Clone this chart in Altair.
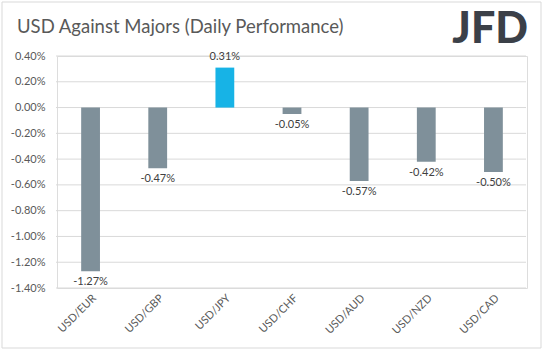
import altair as alt
import pandas as pd

pairs = ["USD/EUR", "USD/GBP", "USD/JPY", "USD/CHF", "USD/AUD", "USD/NZD", "USD/CAD"]
values = [-1.27, -0.47, 0.31, -0.05, -0.57, -0.42, -0.50]
colors = ["#7F909A", "#7F909A", "#17B3E6", "#7F909A", "#7F909A", "#7F909A", "#7F909A"]
y_ticks = [0.4, 0.2, 0.0, -0.2, -0.4, -0.6, -0.8, -1.0, -1.2, -1.4]

df = pd.DataFrame({"pair": pairs, "v": [x / 100 for x in values], "c": colors})
grid_df = pd.DataFrame({"v": [t / 100 for t in y_ticks]})

W, H = 470, 232
FONT = "Lato"

x_enc = alt.X("pair:N", sort=pairs, title=None,
              scale=alt.Scale(paddingInner=0.72, paddingOuter=0.36),
              axis=alt.Axis(labelAngle=-45, domain=False, ticks=False, grid=False,
                            labelFontSize=11, labelColor="#595959", labelFont=FONT,
                            labelPadding=4))
y_scale = alt.Scale(domain=[-0.014, 0.004], nice=False, zero=False)
y_axis = alt.Axis(values=[t / 100 for t in y_ticks], format=".2%",
                  domain=False, ticks=False, grid=False, labelOverlap=False,
                  labelFontSize=11, labelColor="#595959", labelFont=FONT,
                  labelPadding=12)
y_enc = alt.Y("v:Q", title=None, scale=y_scale, axis=y_axis)

grid = alt.Chart(grid_df).mark_rule(color="#D9D9D9", strokeWidth=1).encode(
    y=y_enc,
    x=alt.value(-1), x2=alt.value(469),
)

base = alt.Chart(df)

bars = base.mark_bar().encode(
    x=x_enc, y=y_enc, y2=alt.datum(0),
    color=alt.Color("c:N", scale=None),
)

neg_lab = base.transform_filter("datum.v < 0").mark_text(
    baseline="top", dy=5, fontSize=11, font=FONT, color="#404040"
).encode(x=x_enc, y=y_enc, text=alt.Text("v:Q", format=".2%"))
pos_lab = base.transform_filter("datum.v >= 0").mark_text(
    baseline="bottom", dy=-6, fontSize=11, font=FONT, color="#404040"
).encode(x=x_enc, y=y_enc, text=alt.Text("v:Q", format=".2%"))

title = alt.Chart(pd.DataFrame({"t": ["USD Against Majors (Daily Performance)"]})).mark_text(
    align="left", baseline="alphabetic", fontSize=18.5, font=FONT, color="#595959"
).encode(x=alt.value(-40), y=alt.value(-23), text="t:N")

logo = alt.Chart(pd.DataFrame({"t": ["JFD"]})).mark_text(
    align="right", baseline="alphabetic", fontSize=43, font=FONT, fontWeight=900,
    color="#3B4048"
).encode(x=alt.value(471), y=alt.value(-13), text="t:N")

border = alt.Chart(pd.DataFrame({"a": [1]})).mark_rect(
    fillOpacity=0, stroke="#D9D9D9", strokeWidth=1
).encode(x=alt.value(-55), x2=alt.value(484), y=alt.value(-54), y2=alt.value(292))

chart = alt.layer(grid, bars, neg_lab, pos_lab, title, logo, border).properties(
    width=W, height=H,
    padding={"left": 57, "top": 56, "right": 18, "bottom": 64},
    autosize=alt.AutoSizeParams(type="none"),
    background="white",
).configure_view(stroke=None).configure(
    locale={"number": {"decimal": ".", "thousands": ",", "grouping": [3],
                       "currency": ["$", ""], "minus": "-"}}
)

chart.save("out.html", embed_options={"renderer": "svg", "actions": False})
